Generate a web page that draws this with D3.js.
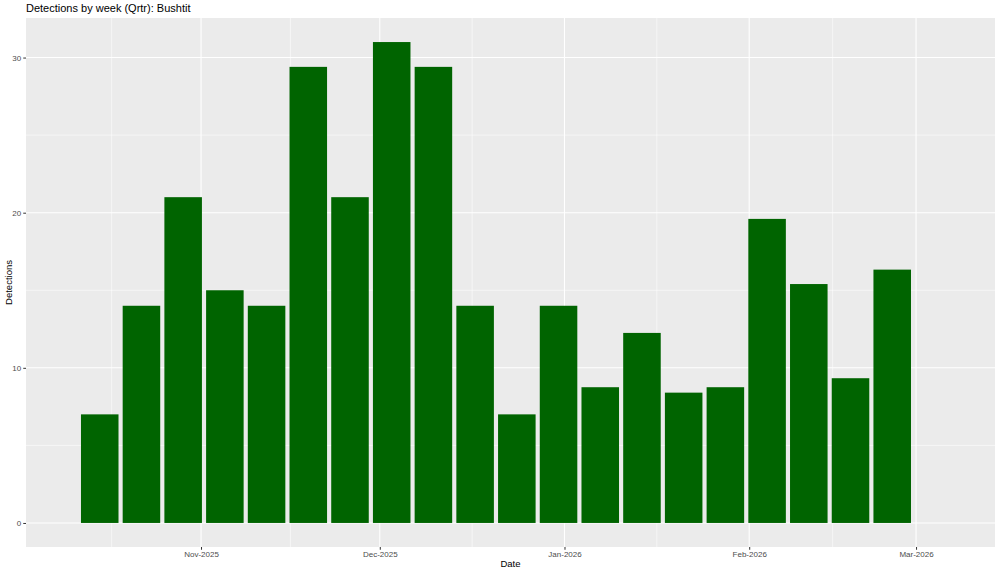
<!DOCTYPE html>
<html>
<head>
<meta charset="utf-8">
<script src="https://cdn.jsdelivr.net/npm/d3@7"></script>
<style>
  body { margin: 0; background: #fff; }
  svg text { font-family: "Liberation Sans", Arial, sans-serif; }
</style>
</head>
<body>
<div id="canvas"></div>
<script>
const w = 1000;
const h = 573;
const margin = { top: 18, bottom: 26, left: 26, right: 5 };

// week start dates (bar centres) and detection counts
const weeks = ["2025-10-15","2025-10-22","2025-10-29","2025-11-05","2025-11-12",
               "2025-11-19","2025-11-26","2025-12-03","2025-12-10","2025-12-17",
               "2025-12-24","2025-12-31","2026-01-07","2026-01-14","2026-01-21",
               "2026-01-28","2026-02-04","2026-02-11","2026-02-18","2026-02-25"];
const detections = [7, 14, 21, 15, 14, 29.4, 21, 31, 29.4, 14,
                    7, 14, 8.75, 12.25, 8.4, 8.75, 19.6, 15.4, 9.33, 16.33];
const xLimits = ["2025-10-02T15:00", "2026-03-14T06:00"];
const yTicks = [0, 10, 20, 30];
const yMinor = [5, 15, 25];
const xTicks = ["2025-11-01", "2025-12-01", "2026-01-01", "2026-02-01", "2026-03-01"];

const parse = d3.isoParse;
const data = weeks.map((d, i) => ({ date: parse(d), value: detections[i] }));

const width = w - margin.left - margin.right;
const height = h - margin.top - margin.bottom;

const svg = d3.select("#canvas").append("svg")
  .attr("width", w).attr("height", h);

const chart = svg.append("g")
  .attr("transform", "translate(" + margin.left + "," + margin.top + ")");

const x = d3.scaleTime()
  .domain(xLimits.map(parse))
  .range([0, width]);

const ymax = d3.max(detections);
const y = d3.scaleLinear()
  .domain([-ymax * 0.05, ymax * 1.05])
  .range([height, 0]);

chart.append("rect")
  .attr("width", width).attr("height", height)
  .attr("fill", "#ebebeb");

// minor x gridlines at midpoints between month breaks
const majors = xTicks.map(parse);
let xMinor = [];
for (let i = 0; i < majors.length - 1; i++) {
  xMinor.push(new Date((+majors[i] + +majors[i + 1]) / 2));
}
xMinor.unshift(new Date(+majors[0] - (+majors[1] - +majors[0]) / 2));

chart.append("g").selectAll("line")
  .data(yMinor).enter().append("line")
  .attr("x1", 0).attr("x2", width)
  .attr("y1", d => y(d)).attr("y2", d => y(d))
  .attr("stroke", "#fff").attr("stroke-width", 0.55);

chart.append("g").selectAll("line")
  .data(xMinor.filter(d => x(d) >= 0 && x(d) <= width)).enter().append("line")
  .attr("y1", 0).attr("y2", height)
  .attr("x1", d => x(d)).attr("x2", d => x(d))
  .attr("stroke", "#fff").attr("stroke-width", 0.55);

chart.append("g").selectAll("line")
  .data(yTicks).enter().append("line")
  .attr("x1", 0).attr("x2", width)
  .attr("y1", d => y(d)).attr("y2", d => y(d))
  .attr("stroke", "#fff").attr("stroke-width", 1.1);

chart.append("g").selectAll("line")
  .data(majors).enter().append("line")
  .attr("y1", 0).attr("y2", height)
  .attr("x1", d => x(d)).attr("x2", d => x(d))
  .attr("stroke", "#fff").attr("stroke-width", 1.1);

// bars, 90% of a week wide
const barDays = 7 * 0.9;
const halfMs = barDays / 2 * 864e5;
chart.append("g").selectAll("rect")
  .data(data).enter().append("rect")
  .attr("x", d => x(new Date(+d.date - halfMs)))
  .attr("width", d => x(new Date(+d.date + halfMs)) - x(new Date(+d.date - halfMs)))
  .attr("y", d => y(d.value))
  .attr("height", d => y(0) - y(d.value))
  .attr("fill", "#006400");

// axes
const yAxis = chart.append("g")
  .call(d3.axisLeft(y).tickValues(yTicks).tickSize(2.75).tickPadding(2));
const xAxis = chart.append("g")
  .attr("transform", "translate(0," + height + ")")
  .call(d3.axisBottom(x).tickValues(majors).tickSize(2.75).tickPadding(2)
    .tickFormat(d3.timeFormat("%b-%Y")));

[yAxis, xAxis].forEach(a => {
  a.select(".domain").remove();
  a.selectAll(".tick line").attr("stroke", "#333").attr("stroke-width", 1);
  a.selectAll(".tick text").attr("fill", "#4d4d4d")
    .style("font-size", "8px").style("font-family", "Liberation Sans, Arial, sans-serif");
});

svg.append("text")
  .attr("x", margin.left).attr("y", 12)
  .style("font-size", "11px").attr("fill", "#000")
  .text("Detections by week (Qrtr): Bushtit");

svg.append("text")
  .attr("x", margin.left + width / 2).attr("y", 567)
  .attr("text-anchor", "middle")
  .style("font-size", "9.5px").attr("fill", "#000")
  .text("Date");

svg.append("text")
  .attr("transform", "translate(12," + (margin.top + height / 2) + ") rotate(-90)")
  .attr("text-anchor", "middle")
  .style("font-size", "9.5px").attr("fill", "#000")
  .text("Detections");
</script>
</body>
</html>
